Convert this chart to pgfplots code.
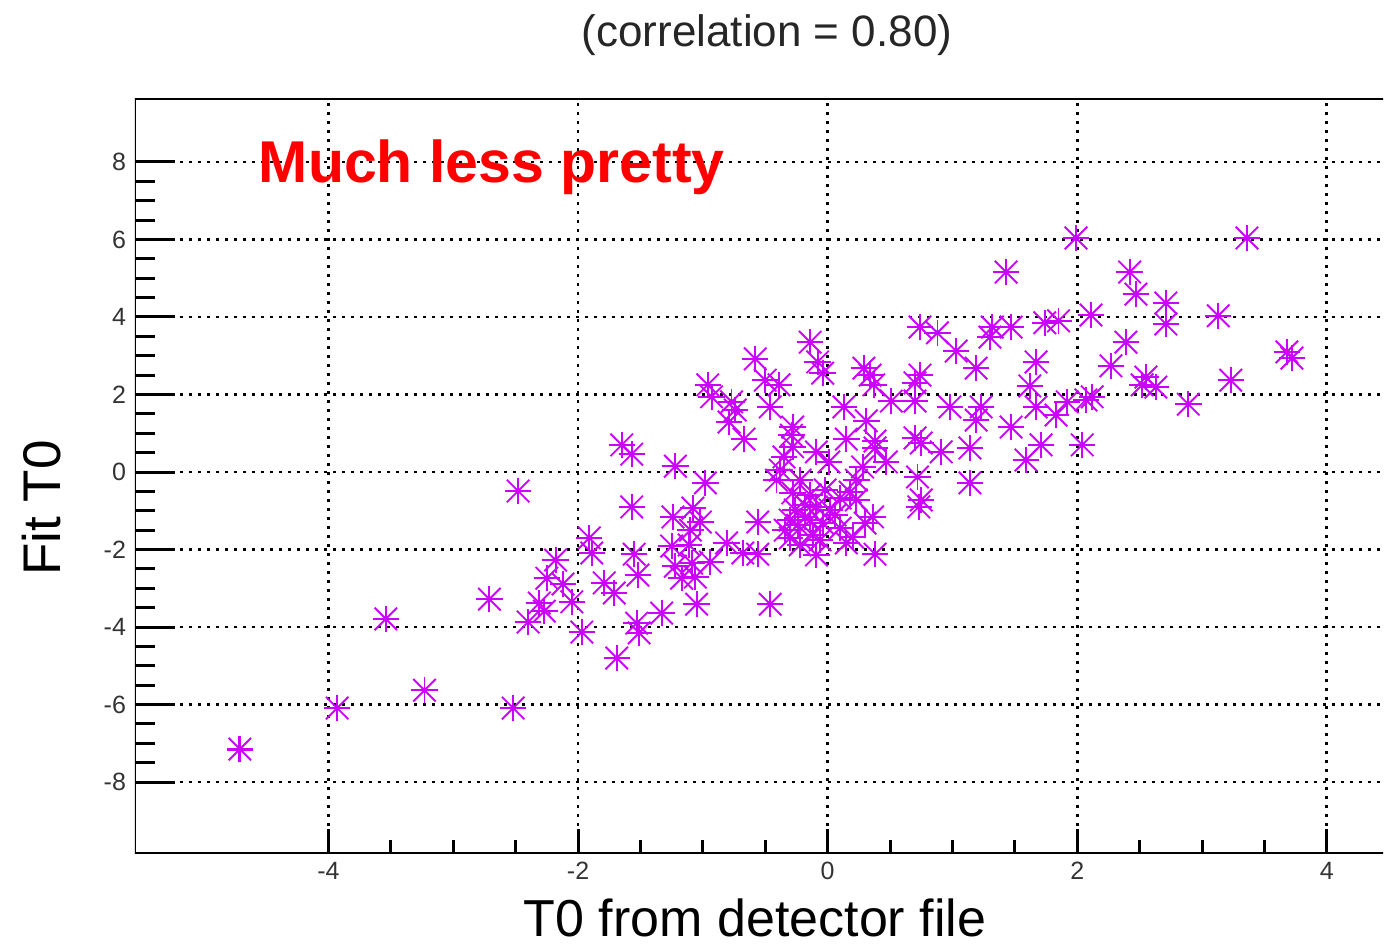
\documentclass[border=0pt]{standalone}
\usepackage{pgfplots}
\pgfplotsset{compat=1.18}
\usepackage{fontspec}
\setmainfont{Liberation Sans}
\definecolor{mk}{RGB}{204,0,255}
\pgfdeclareplotmark{rootstar}{%
  \pgfpathmoveto{\pgfqpoint{-\pgfplotmarksize}{0pt}}%
  \pgfpathlineto{\pgfqpoint{\pgfplotmarksize}{0pt}}%
  \pgfpathmoveto{\pgfqpoint{0pt}{-\pgfplotmarksize}}%
  \pgfpathlineto{\pgfqpoint{0pt}{\pgfplotmarksize}}%
  \pgfusepathqstroke
  \pgfpathcircle{\pgfpointorigin}{1.4pt}%
  \pgfusepathqfill
  \pgfsetlinewidth{0.95pt}%
  \pgfpathmoveto{\pgfqpoint{-0.85\pgfplotmarksize}{-0.85\pgfplotmarksize}}%
  \pgfpathlineto{\pgfqpoint{0.85\pgfplotmarksize}{0.85\pgfplotmarksize}}%
  \pgfpathmoveto{\pgfqpoint{-0.85\pgfplotmarksize}{0.85\pgfplotmarksize}}%
  \pgfpathlineto{\pgfqpoint{0.85\pgfplotmarksize}{-0.85\pgfplotmarksize}}%
  \pgfusepathqstroke
}
\pgfplotstableread{
x y
-4.71 -7.15
-3.93 -6.09
-3.23 -5.63
-2.52 -6.09
-3.54 -3.79
-2.71 -3.28
-2.48 -0.49
-2.25 -2.74
-2.31 -3.38
-2.27 -3.59
-2.40 -3.87
-2.18 -2.27
-0.79 1.29
-0.67 0.85
-1.65 0.70
-1.57 0.46
-1.22 0.15
-0.98 -0.28
-1.57 -0.90
-1.08 -0.93
-1.24 -1.16
-1.02 -1.29
-0.56 -1.29
-1.10 -1.50
-1.91 -1.70
-1.25 -1.91
-1.11 -1.88
-0.81 -1.83
-1.89 -2.09
-1.55 -2.12
-0.68 -2.09
-0.56 -2.12
-1.22 -2.43
-1.09 -2.35
-0.94 -2.32
-1.52 -2.66
-1.06 -2.71
-1.17 -2.74
-2.12 -2.89
-1.79 -2.86
-1.71 -3.12
-2.05 -3.35
-1.05 -3.41
-0.46 -3.41
-1.33 -3.64
-1.53 -3.90
-1.51 -4.15
-1.97 -4.13
-1.69 -4.80
-0.58 2.92
-0.50 2.37
-0.96 2.25
-0.93 1.94
-0.77 1.81
-0.74 1.60
-0.46 1.68
-0.14 3.35
-0.08 2.84
-0.04 2.55
0.29 2.68
0.34 2.50
-0.39 2.25
0.37 2.25
0.51 1.83
0.13 1.68
0.31 1.32
-0.28 1.16
-0.29 0.95
0.15 0.85
0.38 0.80
-0.28 0.65
-0.09 0.52
-0.35 0.39
0.01 0.26
0.38 0.62
0.47 0.26
0.28 0.13
-0.38 0.05
-0.22 -0.21
-0.41 -0.21
0.23 -0.21
0.18 -0.52
-0.28 -0.54
0.10 -0.67
-0.09 -0.90
0.23 -0.72
0.36 -1.16
-0.18 -1.16
-0.24 -1.37
-0.04 -1.32
0.10 -1.45
-0.34 -1.50
-0.12 -1.63
-0.30 -1.70
0.20 -1.68
-0.09 -2.14
0.38 -2.12
0.15 -1.83
-0.18 -0.85
0.02 -0.98
-0.14 -1.24
-0.26 -0.98
-0.06 -1.75
0.06 -1.11
-0.22 -1.88
-0.02 -0.46
-0.14 -0.59
-0.30 -1.24
0.72 -0.13
1.14 -0.28
1.59 0.31
0.75 -0.72
0.73 -0.90
0.30 -1.32
0.74 3.74
0.88 3.59
1.32 3.74
1.47 3.74
1.30 3.48
1.74 3.85
1.85 3.90
2.11 4.05
1.03 3.12
1.67 2.84
1.19 2.68
0.74 2.50
0.70 2.30
1.62 2.22
0.70 1.83
0.98 1.68
1.23 1.68
1.67 1.68
1.92 1.81
2.07 1.86
2.12 1.94
1.83 1.47
1.19 1.34
1.47 1.16
0.70 0.88
0.75 0.75
0.91 0.52
1.14 0.62
1.71 0.70
2.04 0.70
1.99 6.04
3.36 6.04
1.43 5.16
2.42 5.16
2.47 4.59
2.71 4.36
3.13 4.03
2.71 3.82
2.39 3.35
3.68 3.10
3.72 2.94
2.27 2.74
2.55 2.45
2.52 2.25
2.63 2.19
3.23 2.37
2.89 1.75
}\datatable
\begin{document}
\begin{tikzpicture}
\path[use as bounding box] (-67.5pt,-47.5pt) rectangle (625pt,426.5pt);
\begin{axis}[
  at={(0,0)}, anchor=south west,
  scale only axis,
  width=624pt, height=377.5pt,
  xmin=-5.55, xmax=4.45,
  ymin=-9.83, ymax=9.65,
  xtick={-4,-2,0,2,4},
  ytick={-8,-6,-4,-2,0,2,4,6,8},
  minor x tick num=3,
  minor y tick num=3,
  tick align=inside,
  xtick pos=bottom, ytick pos=left,
  x tick style={line width=1.5pt, black, /pgfplots/major tick length=12pt, /pgfplots/minor tick length=6.5pt},
  y tick style={line width=1.5pt, black, /pgfplots/major tick length=20pt, /pgfplots/minor tick length=10pt},
  axis line style={draw=none},
  grid=major,
  major grid style={black, line width=1.4pt, dash pattern=on 1.4pt off 3.1pt},
  /pgf/number format/assume math mode=true,
  tick label style={font=\fontsize{12.5}{14}\selectfont, text=black!80},
  xticklabel style={yshift=-1pt},
  yticklabel style={xshift=-1pt},
]
\addplot[only marks, mark=rootstar, mark size=6.6pt, color=mk, line width=1.6pt] table[x=x,y=y] {\datatable};
\node[anchor=base west, inner sep=0pt, text=red, font=\fontsize{29.5}{32}\selectfont\bfseries] at (axis cs:-4.56,7.47) {Much less pretty};
\draw[line width=1.5pt, black] (rel axis cs:1.02,0) -- (rel axis cs:0,0) -- (rel axis cs:0,1) -- (rel axis cs:1.02,1);
\end{axis}
\node[anchor=base, inner sep=0pt, font=\fontsize{22}{26}\selectfont, text=black!85] at (316pt,403pt) {(correlation = 0.80)};
\node[anchor=base, inner sep=0pt, font=\fontsize{26}{30}\selectfont] at (310pt,-41.8pt) {T0 from detector file};
\node[anchor=base, rotate=90, inner sep=0pt, font=\fontsize{26.5}{30}\selectfont] at (-37.5pt,172.5pt) {Fit T0};
\end{tikzpicture}
\end{document}
